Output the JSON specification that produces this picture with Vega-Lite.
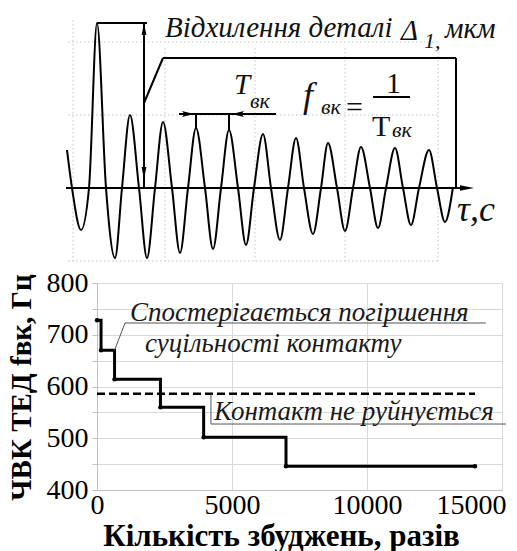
{
  "$schema": "https://vega.github.io/schema/vega-lite/v6.json",
  "padding": {"left": 6, "top": 0, "right": 0, "bottom": 0},
  "spacing": 7,
  "config": {"view": {"stroke": null}, "font": "Liberation Serif"},
  "datasets": {
    "grid": [
      {"t": 1, "d": 146, "t2": 371, "d2": 146},
      {"t": 1, "d": 73, "t2": 371, "d2": 73},
      {"t": 1, "d": -73, "t2": 371, "d2": -73},
      {"t": 6, "d": 168, "t2": 6, "d2": -73},
      {"t": 98, "d": 140, "t2": 98, "d2": -73},
      {"t": 188, "d": 140, "t2": 188, "d2": -73},
      {"t": 278, "d": 140, "t2": 278, "d2": -73},
      {"t": 371, "d": 140, "t2": 371, "d2": -73}
    ],
    "wave": [
      {"t": 0, "d": 38}, {"t": 5, "d": 0}, {"t": 14, "d": -42}, {"t": 22, "d": 0},
      {"t": 30, "d": 165}, {"t": 39, "d": 0}, {"t": 48, "d": -70}, {"t": 55, "d": 0},
      {"t": 63, "d": 73}, {"t": 72, "d": 0}, {"t": 80, "d": -70}, {"t": 88, "d": 0},
      {"t": 96, "d": 66}, {"t": 105, "d": 0}, {"t": 113, "d": -65}, {"t": 121, "d": 0},
      {"t": 129, "d": 60}, {"t": 138, "d": 0}, {"t": 146, "d": -61}, {"t": 154, "d": 0},
      {"t": 162, "d": 58}, {"t": 171, "d": 0}, {"t": 179, "d": -57}, {"t": 187, "d": 0},
      {"t": 196, "d": 54}, {"t": 204, "d": 0}, {"t": 213, "d": -52}, {"t": 221, "d": 0},
      {"t": 229, "d": 50}, {"t": 237, "d": 0}, {"t": 246, "d": -46}, {"t": 254, "d": 0},
      {"t": 261, "d": 45}, {"t": 270, "d": 0}, {"t": 278, "d": -43}, {"t": 286, "d": 0},
      {"t": 294, "d": 41}, {"t": 303, "d": 0}, {"t": 311, "d": -40}, {"t": 319, "d": 0},
      {"t": 328, "d": 40}, {"t": 336, "d": 0}, {"t": 344, "d": -37}, {"t": 352, "d": 0},
      {"t": 362, "d": 38}, {"t": 370, "d": 0}, {"t": 378, "d": -34}, {"t": 386, "d": 1}
    ],
    "strokes": [
      {"t": -1, "d": 0, "t2": 395, "d2": 0},
      {"t": 30, "d": 165, "t2": 80, "d2": 165},
      {"t": 77, "d": 165, "t2": 77, "d2": 0},
      {"t": 77, "d": 85, "t2": 96, "d2": 130},
      {"t": 96, "d": 130, "t2": 389, "d2": 130},
      {"t": 389, "d": 130, "t2": 389, "d2": 1},
      {"t": 112, "d": 74, "t2": 209, "d2": 74},
      {"t": 129, "d": 74, "t2": 129, "d2": 60},
      {"t": 162, "d": 74, "t2": 162, "d2": 58},
      {"t": 306, "d": 91, "t2": 343, "d2": 91}
    ],
    "arrowUp": [{"t": 77, "d": 159}],
    "arrowDown": [{"t": 77, "d": 15}],
    "arrowRight": [{"t": 121, "d": 74}],
    "arrowLeft": [{"t": 171, "d": 74}],
    "axisHead": [{"t": 400, "d": 0}],
    "labels30": [
      {"t": 98, "d": 151, "label": "Відхилення деталі"},
      {"t": 334, "d": 148, "label": "Δ"},
      {"t": 378, "d": 150, "label": "мкм"},
      {"t": 167, "d": 94, "label": "T"}
    ],
    "labelsSub": [
      {"t": 357, "d": 140, "label": "1,"},
      {"t": 183, "d": 80, "label": "вк"},
      {"t": 254, "d": 74, "label": "вк"},
      {"t": 325, "d": 51, "label": "вк"}
    ],
    "labelsBig": [
      {"t": 236, "d": 81, "label": "f"},
      {"t": 390, "d": -33, "label": "τ,с"}
    ],
    "labelsUpright": [
      {"t": 279, "d": 71, "label": "="},
      {"t": 319, "d": 95, "label": "1"},
      {"t": 305, "d": 52, "label": "T"}
    ],
    "steps": [
      {"n": 0, "f": 728}, {"n": 150, "f": 670}, {"n": 650, "f": 614},
      {"n": 2350, "f": 560}, {"n": 3950, "f": 502}, {"n": 7000, "f": 446},
      {"n": 14000, "f": 446}
    ],
    "limit": [{"n": 0, "f": 586}, {"n": 14000, "f": 586}],
    "leaders": [
      {"g": 1, "o": 1, "n": 650, "f": 670},
      {"g": 1, "o": 2, "n": 1037, "f": 722.7},
      {"g": 1, "o": 3, "n": 14400, "f": 722.7},
      {"g": 2, "o": 1, "n": 4220, "f": 586},
      {"g": 2, "o": 2, "n": 4220, "f": 527.5},
      {"g": 2, "o": 3, "n": 15150, "f": 527.5}
    ],
    "notes": [
      {"n": 1222, "f": 726, "label": "Спостерігається погіршення"},
      {"n": 1778, "f": 666.7, "label": "суцільності контакту"},
      {"n": 4333, "f": 535, "label": "Контакт не руйнується"}
    ]
  },
  "vconcat": [
    {
      "width": 405,
      "height": 262,
      "encoding": {
        "x": {"field": "t", "type": "quantitative", "scale": {"domain": [30, 435], "nice": false, "zero": false}, "axis": null},
        "y": {"field": "d", "type": "quantitative", "scale": {"domain": [-74, 188], "nice": false, "zero": false}, "axis": null}
      },
      "layer": [
        {
          "data": {"name": "grid"},
          "mark": {"type": "rule", "color": "#c4c4c4", "strokeWidth": 1, "strokeDash": [1.5, 2.5]},
          "encoding": {"x2": {"field": "t2"}, "y2": {"field": "d2"}}
        },
        {
          "data": {"name": "wave"},
          "mark": {"type": "line", "interpolate": "monotone", "color": "#000", "strokeWidth": 2}
        },
        {
          "data": {"name": "strokes"},
          "mark": {"type": "rule", "color": "#000", "strokeWidth": 2},
          "encoding": {"x2": {"field": "t2"}, "y2": {"field": "d2"}}
        },
        {
          "data": {"name": "arrowUp"},
          "mark": {"type": "point", "shape": "M0,-1L0.4,1L-0.4,1Z", "size": 144, "filled": true, "color": "#000", "opacity": 1}
        },
        {
          "data": {"name": "arrowDown"},
          "mark": {"type": "point", "shape": "M0,1L0.4,-1L-0.4,-1Z", "size": 144, "filled": true, "color": "#000", "opacity": 1}
        },
        {
          "data": {"name": "arrowRight"},
          "mark": {"type": "point", "shape": "M1,0L-1,-0.5L-0.6,0L-1,0.5Z", "size": 144, "filled": true, "color": "#000", "opacity": 1}
        },
        {
          "data": {"name": "arrowLeft"},
          "mark": {"type": "point", "shape": "M-1,0L1,-0.5L0.6,0L1,0.5Z", "size": 144, "filled": true, "color": "#000", "opacity": 1}
        },
        {
          "data": {"name": "axisHead"},
          "mark": {"type": "point", "shape": "M1,0L-1,-0.4L-1,0.4Z", "size": 196, "filled": true, "color": "#000", "opacity": 1}
        },
        {
          "data": {"name": "labels30"},
          "mark": {"type": "text", "align": "left", "baseline": "alphabetic", "font": "Liberation Serif", "fontStyle": "italic", "fontSize": 29, "color": "#111"},
          "encoding": {"text": {"field": "label"}}
        },
        {
          "data": {"name": "labelsSub"},
          "mark": {"type": "text", "align": "left", "baseline": "alphabetic", "font": "Liberation Serif", "fontStyle": "italic", "fontSize": 22, "color": "#111"},
          "encoding": {"text": {"field": "label"}}
        },
        {
          "data": {"name": "labelsBig"},
          "mark": {"type": "text", "align": "left", "baseline": "alphabetic", "font": "Liberation Serif", "fontStyle": "italic", "fontSize": 36, "color": "#111"},
          "encoding": {"text": {"field": "label"}}
        },
        {
          "data": {"name": "labelsUpright"},
          "mark": {"type": "text", "align": "left", "baseline": "alphabetic", "font": "Liberation Serif", "fontSize": 30, "color": "#111"},
          "encoding": {"text": {"field": "label"}}
        }
      ]
    },
    {
      "width": 405,
      "height": 207,
      "encoding": {
        "x": {
          "field": "n", "type": "quantitative",
          "scale": {"domain": [0, 15000], "nice": false},
          "axis": {
            "title": "Кількість збуджень, разів",
            "values": [0, 5000, 10000, 15000],
            "format": "d",
            "grid": true, "gridColor": "#d9d9d9",
            "domainColor": "#c0c0c0",
            "ticks": false,
            "labelFont": "Liberation Serif", "labelFontSize": 28, "labelColor": "#000",
            "labelPadding": 1, "labelFlush": false,
            "labelAlign": {"condition": {"test": "datum.value === 15000", "value": "right"}, "value": "center"},
            "labelOffset": {"condition": {"test": "datum.value === 15000", "value": 4}, "value": 0},
            "titleFont": "Liberation Serif", "titleFontSize": 31, "titleFontWeight": "bold", "titleColor": "#000",
            "titleX": 184, "titleY": 55, "titleBaseline": "alphabetic"
          }
        },
        "y": {
          "field": "f", "type": "quantitative",
          "scale": {"domain": [400, 800], "nice": false, "zero": false},
          "axis": {
            "title": "ЧВК ТЕД fвк, Гц",
            "values": [400, 450, 500, 550, 600, 650, 700, 750, 800],
            "labelExpr": "datum.value % 100 === 0 ? datum.label : ''",
            "grid": true, "gridColor": "#d9d9d9",
            "domainColor": "#c0c0c0",
            "tickColor": "#c0c0c0", "tickSize": 5,
            "labelFont": "Liberation Serif", "labelFontSize": 28, "labelColor": "#000",
            "labelPadding": 4,
            "titleFont": "Liberation Serif", "titleFontSize": 29, "titleFontWeight": "bold", "titleColor": "#000",
            "titleX": -67, "titleY": 104, "titleBaseline": "alphabetic", "titleAngle": 270
          }
        }
      },
      "layer": [
        {
          "data": {"name": "limit"},
          "mark": {"type": "line", "color": "#000", "strokeWidth": 2.5, "strokeDash": [8, 4]}
        },
        {
          "data": {"name": "steps"},
          "mark": {"type": "line", "interpolate": "step-after", "color": "#000", "strokeWidth": 3}
        },
        {
          "data": {"name": "steps"},
          "mark": {"type": "point", "filled": true, "color": "#000", "size": 20, "opacity": 1}
        },
        {
          "data": {"name": "leaders"},
          "mark": {"type": "line", "color": "#555", "strokeWidth": 1},
          "encoding": {"detail": {"field": "g"}, "order": {"field": "o"}}
        },
        {
          "data": {"name": "notes"},
          "mark": {"type": "text", "align": "left", "baseline": "alphabetic", "font": "Liberation Serif", "fontStyle": "italic", "fontSize": 27, "color": "#1a1a1a"},
          "encoding": {"text": {"field": "label"}}
        }
      ]
    }
  ]
}
